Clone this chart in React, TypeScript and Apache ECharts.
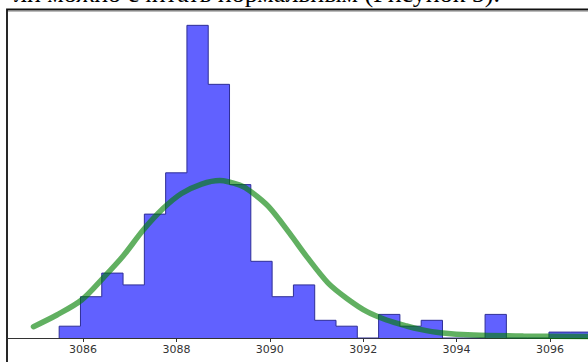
import React, { useEffect, useRef } from "react";
import * as echarts from "echarts";

// Histogram: first bin edge, bin width, counts per bin
const binStart = 3085.49;
const binWidth = 0.456;
const counts = [2, 7, 11, 9, 21, 28, 53, 43, 26, 13, 7, 9, 3, 2, 0, 4, 2, 3, 0, 0, 4, 0, 0, 1, 1];

// Fitted normal curve
const curveX = [3084.94, 3085.44, 3085.97, 3086.44, 3086.86, 3087.29, 3087.72, 3088.11, 3088.54, 3088.93, 3089.36, 3089.58, 3089.97, 3090.43, 3090.79, 3091.25, 3091.65, 3092.08, 3092.5, 3092.93, 3093.22, 3093.65, 3094.36, 3095.43, 3096.81];
const curveY = [1.92, 3.9, 6.44, 10.25, 13.9, 18.3, 21.98, 24.5, 26.1, 26.7, 25.9, 24.9, 22.3, 17.7, 13.8, 9.3, 6.7, 4.46, 3.05, 2.03, 1.47, 0.9, 0.5, 0.34, 0.25];

const tickValues = [3086, 3088, 3090, 3092, 3094, 3096];

const caption = "ли можно считать нормальным (Рисунок 5).";

export default function App() {
  const ref = useRef<HTMLDivElement>(null);
  useEffect(() => {
    if (!ref.current) return;
    const chart = echarts.init(ref.current, undefined, { renderer: "svg" });

    const stepData: number[][] = [[binStart, 0]];
    counts.forEach((c, i) => stepData.push([binStart + i * binWidth, c]));
    const endEdge = binStart + counts.length * binWidth;
    stepData.push([endEdge, counts[counts.length - 1]]);
    stepData.push([endEdge, 0]);

    const curve = curveX.map((x, i) => [x, curveY[i]]);

    chart.setOption({
      animation: false,
      backgroundColor: "#ffffff",
      grid: { left: 7, right: 0, top: 10, bottom: 24 },
      xAxis: {
        type: "value",
        min: 3084.373,
        max: 3096.814,
        axisLine: { show: true, lineStyle: { color: "#333", width: 1 } },
        axisTick: { show: true, customValues: tickValues, length: 4, lineStyle: { color: "#333" } },
        axisLabel: {
          customValues: tickValues,
          formatter: (v: number) => String(Math.round(v)),
          fontFamily: "DejaVu Sans",
          fontSize: 11,
          color: "#333",
          margin: 6,
        },
        splitLine: { show: false },
      },
      yAxis: { type: "value", min: 0, max: 55.6, show: false },
      series: [
        {
          type: "line",
          step: "end",
          data: stepData,
          symbol: "none",
          lineStyle: { color: "#2e2e96", width: 1 },
          areaStyle: { color: "rgba(0,0,255,0.62)", opacity: 1 },
          z: 2,
        },
        {
          type: "line",
          smooth: 0.3,
          data: curve,
          symbol: "none",
          lineStyle: { color: "rgba(0,128,0,0.62)", width: 5.5, cap: "round" },
          z: 3,
        },
      ],
      graphic: [
        {
          type: "text",
          x: 500,
          y: 6,
          style: {
            text: caption,
            font: "26px 'Liberation Serif'",
            fill: "#000",
            align: "right",
            verticalAlign: "bottom",
          },
        },
        {
          type: "rect",
          shape: { x: 7, y: 9.5, width: 700, height: 500 },
          style: { fill: "none", stroke: "#111", lineWidth: 1.8 },
        },
        {
          type: "line",
          shape: { x1: 8, y1: 11.5, x2: 588, y2: 11.5 },
          style: { stroke: "#bbb", lineWidth: 1 },
        },
      ],
    });
    return () => chart.dispose();
  }, []);
  return (
    <div
      ref={ref}
      style={{ position: "fixed", left: 0, top: 0, width: 588, height: 362, background: "#fff" }}
    />
  );
}
